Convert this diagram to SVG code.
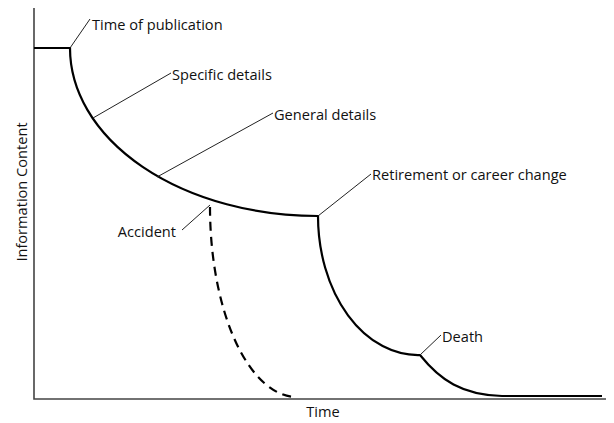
<svg xmlns="http://www.w3.org/2000/svg" width="614" height="423" viewBox="0 0 614 423">
<style>
text{font-family:"Open Sans","Liberation Sans",sans-serif;font-size:14.6px;fill:#111}
.axis{stroke:#444;stroke-width:1.6;fill:none}
.curve{stroke:#000;stroke-width:2.2;fill:none}
.dash{stroke:#000;stroke-width:2.2;fill:none;stroke-dasharray:9,6}
.lead{stroke:#222;stroke-width:1;fill:none}
</style>
<rect width="614" height="423" fill="#fff"/>
<g id="axes">
<path class="axis" d="M34,8 V399 H606"/>
<text x="323" y="417" text-anchor="middle">Time</text>
<text transform="translate(27,192) rotate(-90)" text-anchor="middle">Information Content</text>
</g>
<g id="curves">
<path class="curve" d="M34,48 H70 A248,168 0 0 0 318,216 A100,139 0 0 0 420,355 C440,380 462,395 502,396 H602"/>
<path class="dash" d="M210,207 A87,190 0 0 0 297,397"/>
</g>
<g id="connectors">
<path class="lead" d="M70,48 L90,19"/>
<path class="lead" d="M93,118 L171,73"/>
<path class="lead" d="M157,177 L273,113"/>
<path class="lead" d="M182,230 L210,205"/>
<path class="lead" d="M318,216 L371,174"/>
<path class="lead" d="M420,355 L441,335"/>
</g>
<g id="label-publication"><text x="92" y="30">Time of publication</text></g>
<g id="label-specific"><text x="172" y="80">Specific details</text></g>
<g id="label-general"><text x="274" y="120">General details</text></g>
<g id="label-accident"><text x="176" y="237" text-anchor="end">Accident</text></g>
<g id="label-retirement"><text x="372" y="180">Retirement or career change</text></g>
<g id="label-death"><text x="442" y="342">Death</text></g>
</svg>
